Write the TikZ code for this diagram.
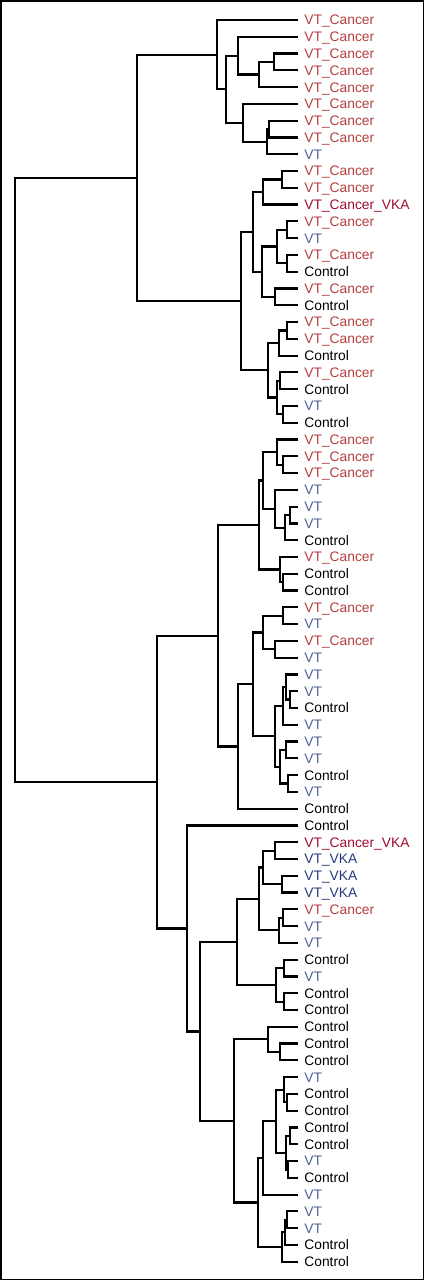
\documentclass[tikz,border=0pt]{standalone}
\usepackage{fontspec}
\setmainfont{Liberation Sans}
\usetikzlibrary{calc}
\definecolor{cancerRed}{RGB}{181,62,62}
\definecolor{vkaRed}{RGB}{158,12,48}
\definecolor{vtBlue}{RGB}{78,96,150}
\definecolor{vkaBlue}{RGB}{38,58,122}
\tikzset{
  leaf/.style={anchor=west,inner xsep=3pt,inner ysep=0pt,text height=4.9pt,text depth=0pt,font=\fontsize{6.9}{8}\selectfont},
  branch/.style={line width=1.1pt}
}
% join two clusters at height #2
\newcommand\mergeclust[4]{%
  \path let \p1=(#3), \p2=(#4) in coordinate (#1) at ({#2*0.5pt},{(\y1+\y2)/2});
  \draw[branch] (#3) -| (#1) |- (#4);
}

\begin{document}
\begin{tikzpicture}[x=0.5pt,y=-0.5pt]
\draw[line width=0.75pt] (0.75,0.75) rectangle (423.25,1279.25);
% leaves
\foreach \txt/\col [count=\i] in {
  VT\_Cancer/cancerRed,VT\_Cancer/cancerRed,VT\_Cancer/cancerRed,VT\_Cancer/cancerRed,VT\_Cancer/cancerRed,
  VT\_Cancer/cancerRed,VT\_Cancer/cancerRed,VT\_Cancer/cancerRed,VT/vtBlue,VT\_Cancer/cancerRed,
  VT\_Cancer/cancerRed,VT\_Cancer\_VKA/vkaRed,VT\_Cancer/cancerRed,VT/vtBlue,VT\_Cancer/cancerRed,
  Control/black,VT\_Cancer/cancerRed,Control/black,VT\_Cancer/cancerRed,VT\_Cancer/cancerRed,
  Control/black,VT\_Cancer/cancerRed,Control/black,VT/vtBlue,Control/black,
  VT\_Cancer/cancerRed,VT\_Cancer/cancerRed,VT\_Cancer/cancerRed,VT/vtBlue,VT/vtBlue,
  VT/vtBlue,Control/black,VT\_Cancer/cancerRed,Control/black,Control/black,
  VT\_Cancer/cancerRed,VT/vtBlue,VT\_Cancer/cancerRed,VT/vtBlue,VT/vtBlue,
  VT/vtBlue,Control/black,VT/vtBlue,VT/vtBlue,VT/vtBlue,
  Control/black,VT/vtBlue,Control/black,Control/black,VT\_Cancer\_VKA/vkaRed,
  VT\_VKA/vkaBlue,VT\_VKA/vkaBlue,VT\_VKA/vkaBlue,VT\_Cancer/cancerRed,VT/vtBlue,
  VT/vtBlue,Control/black,VT/vtBlue,Control/black,Control/black,
  Control/black,Control/black,Control/black,VT/vtBlue,Control/black,
  Control/black,Control/black,Control/black,VT/vtBlue,Control/black,
  VT/vtBlue,VT/vtBlue,VT/vtBlue,Control/black,Control/black}
  \node[leaf,text=\col] (l\i) at (298,{20+(\i-1)*16.78}) {\txt};
% upper cluster
\mergeclust{a1}{274}{l3}{l4}
\mergeclust{a2}{259}{a1}{l5}
\mergeclust{a3}{238}{l2}{a2}
\mergeclust{a4}{269}{l7}{l8}
\mergeclust{a5}{267}{a4}{l9}
\mergeclust{a6}{243}{l6}{a5}
\mergeclust{a7}{226}{a3}{a6}
\mergeclust{a8}{217}{l1}{a7}
\mergeclust{b1}{282}{l10}{l11}
\mergeclust{b2}{263}{b1}{l12}
\mergeclust{b3}{287}{l13}{l14}
\mergeclust{b4}{287}{l15}{l16}
\mergeclust{b5}{277}{b3}{b4}
\mergeclust{b6}{275}{l17}{l18}
\mergeclust{b7}{262}{b5}{b6}
\mergeclust{b8}{253}{b2}{b7}
\mergeclust{b9}{287}{l19}{l20}
\mergeclust{b10}{279}{b9}{l21}
\mergeclust{b11}{280}{l22}{l23}
\mergeclust{b12}{283}{l24}{l25}
\mergeclust{b13}{277}{b11}{b12}
\mergeclust{b14}{268}{b10}{b13}
\mergeclust{b15}{241}{b8}{b14}
\mergeclust{top}{137}{a8}{b15}
% middle cluster
\mergeclust{c1}{283}{l27}{l28}
\mergeclust{c2}{277}{l26}{c1}
\mergeclust{c3}{290}{l30}{l31}
\mergeclust{c4}{285}{c3}{l32}
\mergeclust{c5}{275}{l29}{c4}
\mergeclust{c6}{263}{c2}{c5}
\mergeclust{c7}{283}{l34}{l35}
\mergeclust{c8}{280}{l33}{c7}
\mergeclust{c9}{259}{c6}{c8}
\mergeclust{d1}{283}{l36}{l37}
\mergeclust{d2}{275}{l38}{l39}
\mergeclust{d3}{263}{d1}{d2}
\mergeclust{d4}{290}{l41}{l42}
\mergeclust{d5}{286}{l40}{d4}
\mergeclust{d6}{283}{d5}{l43}
\mergeclust{d7}{286}{l44}{l45}
\mergeclust{d8}{288}{l46}{l47}
\mergeclust{d9}{280}{d7}{d8}
\mergeclust{d10}{275}{d6}{d9}
\mergeclust{d11}{253}{d3}{d10}
\mergeclust{d12}{238}{d11}{l48}
\mergeclust{g}{218}{c9}{d12}
% lower cluster
\mergeclust{e1}{275}{l50}{l51}
\mergeclust{e2}{282}{l52}{l53}
\mergeclust{e3}{263}{e1}{e2}
\mergeclust{e4}{283}{l54}{l55}
\mergeclust{e5}{279}{e4}{l56}
\mergeclust{e6}{259}{e3}{e5}
\mergeclust{e7}{284}{l57}{l58}
\mergeclust{e8}{284}{l59}{l60}
\mergeclust{e9}{276}{e7}{e8}
\mergeclust{e10}{237}{e6}{e9}
\mergeclust{f1}{280}{l62}{l63}
\mergeclust{f2}{268}{l61}{f1}
\mergeclust{f3}{287}{l65}{l66}
\mergeclust{f4}{284}{l64}{f3}
\mergeclust{f5}{290}{l67}{l68}
\mergeclust{f6}{288}{l69}{l70}
\mergeclust{f7}{286}{f5}{f6}
\mergeclust{f8}{276}{f4}{f7}
\mergeclust{f9}{263}{f8}{l71}
\mergeclust{f10}{287}{l72}{l73}
\mergeclust{f11}{285}{f10}{l74}
\mergeclust{f12}{282}{f11}{l75}
\mergeclust{f13}{258}{f9}{f12}
\mergeclust{f14}{234}{f2}{f13}
\mergeclust{h1}{200}{e10}{f14}
\mergeclust{h2}{187}{l49}{h1}
\mergeclust{bot}{157}{g}{h2}
\mergeclust{root}{15}{top}{bot}
\end{tikzpicture}
\end{document}
